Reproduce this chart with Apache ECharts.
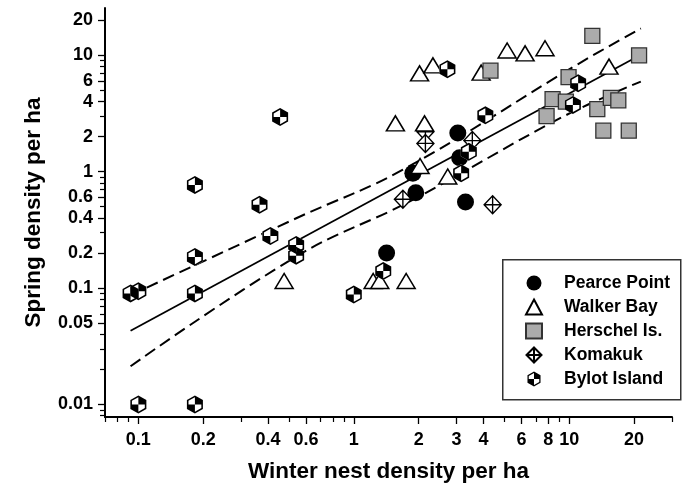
<!DOCTYPE html>
<html>
<head>
<meta charset="utf-8">
<script src="https://cdn.jsdelivr.net/npm/echarts@6/dist/echarts.min.js"></script>
<style>
html,body{margin:0;padding:0;background:#fff;}
#chart{width:683px;height:494px;}
</style>
</head>
<body>
<div id="chart"></div>
<script>
// ---- data (raw densities per ha) ----
const pearceX = [1.42, 1.88, 1.94, 3.04, 3.10, 3.30];
const pearceY = [0.20, 0.97, 0.66, 2.15, 1.32, 0.55];

const walkerX = [1.56, 2.13, 2.03, 2.73, 2.02, 2.33, 3.90, 5.15, 6.24, 7.72, 15.3, 0.475, 1.23, 1.32, 1.75];
const walkerY = [2.6, 2.6, 1.12, 0.91, 7.0, 8.2, 7.1, 11.0, 10.4, 11.5, 8.0, 0.115, 0.115, 0.115, 0.115];

const herschelX = [12.8, 21.1, 4.31, 9.93, 8.37, 9.65, 7.85, 13.5, 15.6, 16.9, 14.4, 18.9];
const herschelY = [14.7, 10.0, 7.4, 6.5, 4.2, 4.0, 3.0, 3.45, 4.3, 4.1, 2.25, 2.25];

const komakukX = [2.15, 2.15, 3.55, 1.69, 4.41];
const komakukY = [2.2, 1.75, 1.85, 0.58, 0.52];

const bylotX = [0.092, 0.100, 0.100, 0.183, 0.183, 0.183, 0.183, 0.365, 0.41, 0.455, 0.54, 0.54, 1.0, 1.37, 2.72, 4.08, 3.42, 3.15, 11.0, 10.4];
const bylotY = [0.090, 0.094, 0.010, 0.010, 0.090, 0.185, 0.77, 0.52, 0.28, 2.95, 0.235, 0.19, 0.088, 0.14, 7.6, 3.05, 1.48, 0.97, 5.75, 3.75];

// regression line and confidence band
const fitX = [0.092, 21.5];
const fitY = [0.043, 10.1];
const upperX = [0.092, 0.56, 1.69, 11.1, 21.5];
const upperY = [0.087, 0.41, 1.04, 8.5, 17.0];
const lowerX = [0.092, 0.56, 1.82, 9.3, 21.5];
const lowerY = [0.0213, 0.194, 0.556, 2.95, 5.95];

const xTickLabels = ['0.1', '0.2', '0.4', '0.6', '1', '2', '3', '4', '6', '8', '10', '20'];
const yTickLabels = ['0.01', '0.05', '0.1', '0.2', '0.4', '0.6', '1', '2', '4', '6', '10', '20'];

const xRange = [0.07, 30];
const yRange = [0.0078, 25.5];

const seriesNames = ['Pearce Point', 'Walker Bay', 'Herschel Is.', 'Komakuk', 'Bylot Island'];

// ---- helpers ----
const lg = v => Math.log10(v);
const pts = (xs, ys) => xs.map((x, i) => [lg(x), lg(ys[i])]);

function minorTicks(range, majors) {
  const out = [];
  for (let e = -3; e <= 2; e++) {
    for (let m = 1; m <= 9; m++) {
      const v = m * Math.pow(10, e);
      if (v >= range[0] * 0.999 && v <= range[1] * 1.001) {
        if (!majors.some(s => Math.abs(+s - v) < 1e-9 * Math.max(1, v))) out.push(lg(v));
      }
    }
  }
  return out;
}
function labelFor(list) {
  return function (val) {
    let best = '', d = 1e9;
    list.forEach(s => { const dd = Math.abs(lg(+s) - val); if (dd < d) { d = dd; best = s; } });
    return d < 1e-6 ? best : '';
  };
}

const FONT = "'Liberation Sans', Arial, Helvetica, sans-serif";
const xMajor = xTickLabels.map(s => lg(+s));
const yMajor = yTickLabels.map(s => lg(+s));
const xMinor = minorTicks(xRange, xTickLabels);
const yMinor = minorTicks(yRange, yTickLabels);

const HEX_PATH = 'path://M43.5,0 L87,25 L87,75 L43.5,100 L0,75 L0,25 Z';
const BYLOT_PATH = 'path://M43.5,0 L87,25 L87,75 L43.5,100 L0,75 L0,25 Z ' +
  'M43.5,10 L8.5,30 L8.5,70 L43.5,90 L78.5,70 L78.5,30 Z ' +
  'M43.5,50 L43.5,10 L78.5,30 L78.5,50 Z ' +
  'M43.5,50 L43.5,90 L8.5,70 L8.5,50 Z';
const KOMAKUK_PATH = 'path://M50,0 L100,50 L50,100 L0,50 Z M50,0 L50,100 M0,50 L100,50';

const axisTxt = { fontFamily: FONT, fontSize: 18, fontWeight: 'bold', color: '#000' };

const chart = echarts.init(document.getElementById('chart'), null, { renderer: 'canvas' });
chart.setOption({
  animation: false,
  backgroundColor: '#fff',
  grid: { left: 105, right: 11, top: 8, bottom: 77, containLabel: false },
  xAxis: [{
    type: 'value', min: lg(xRange[0]), max: lg(xRange[1]), position: 'bottom',
    name: 'Winter nest density per ha', nameLocation: 'middle', nameGap: 43,
    nameTextStyle: { fontFamily: FONT, fontSize: 22.5, fontWeight: 'bold', color: '#000' },
    axisLine: { show: true, onZero: false, lineStyle: { color: '#000', width: 2 } },
    axisTick: { show: true, customValues: xMajor, length: 7, lineStyle: { color: '#000', width: 1.3 } },
    axisLabel: Object.assign({ customValues: xMajor, formatter: labelFor(xTickLabels), margin: 14 }, axisTxt),
    splitLine: { show: false }
  }, {
    type: 'value', min: lg(xRange[0]), max: lg(xRange[1]), position: 'bottom',
    axisLine: { show: false, onZero: false },
    axisTick: { show: true, customValues: xMinor, length: 5, lineStyle: { color: '#000', width: 1.2 } },
    axisLabel: { show: false },
    splitLine: { show: false }
  }],
  yAxis: [{
    type: 'value', min: lg(yRange[0]), max: lg(yRange[1]), position: 'left',
    name: 'Spring density per ha', nameLocation: 'middle', nameGap: 60,
    nameTextStyle: { fontFamily: FONT, fontSize: 22.5, fontWeight: 'bold', color: '#000' },
    axisLine: { show: true, onZero: false, lineStyle: { color: '#000', width: 2 } },
    axisTick: { show: true, customValues: yMajor, length: 7, lineStyle: { color: '#000', width: 1.3 } },
    axisLabel: Object.assign({ customValues: yMajor, formatter: labelFor(yTickLabels), margin: 12 }, axisTxt),
    splitLine: { show: false }
  }, {
    type: 'value', min: lg(yRange[0]), max: lg(yRange[1]), position: 'left',
    axisLine: { show: false, onZero: false },
    axisTick: { show: true, customValues: yMinor, length: 5, lineStyle: { color: '#000', width: 1.2 } },
    axisLabel: { show: false },
    splitLine: { show: false }
  }],
  legend: {
    data: seriesNames,
    orient: 'vertical',
    left: 525, top: 274,
    padding: 0,
    itemWidth: 16, itemHeight: 15, itemGap: 6,
    textStyle: { fontFamily: FONT, fontSize: 17.5, lineHeight: 15, fontWeight: 'bold', color: '#000', padding: [0, 0, 0, 17] },
    selectedMode: false
  },
  graphic: [{
    type: 'rect', left: 502, top: 259, silent: true, z: 0,
    shape: { width: 178, height: 140 },
    style: { fill: '#fff', stroke: '#333', lineWidth: 1.5 }
  }],
  series: [
    { type: 'line', data: pts(fitX, fitY), showSymbol: false, symbol: 'none', silent: true,
      lineStyle: { color: '#000', width: 1.8 }, z: 1 },
    { type: 'line', data: pts(upperX, upperY), showSymbol: false, symbol: 'none', smooth: 0.4, silent: true,
      lineStyle: { color: '#000', width: 2, type: [12, 6] }, z: 1 },
    { type: 'line', data: pts(lowerX, lowerY), showSymbol: false, symbol: 'none', smooth: 0.4, silent: true,
      lineStyle: { color: '#000', width: 2, type: [12, 6] }, z: 1 },
    { name: 'Komakuk', type: 'scatter', data: pts(komakukX, komakukY), symbol: KOMAKUK_PATH, symbolSize: [17, 18],
      itemStyle: { color: '#fff', borderColor: '#000', borderWidth: 1.4, opacity: 1 }, z: 2 },
    { name: 'Pearce Point', type: 'scatter', data: pts(pearceX, pearceY), symbol: 'circle', symbolSize: 17,
      itemStyle: { color: '#000', opacity: 1 }, z: 2 },
    { name: 'Walker Bay', type: 'scatter', data: pts(walkerX, walkerY), symbol: 'triangle', symbolSize: [18, 15],
      itemStyle: { color: '#fff', borderColor: '#000', borderWidth: 1.5, opacity: 1 }, z: 2 },
    { name: 'Herschel Is.', type: 'scatter', data: pts(herschelX, herschelY), symbol: 'rect', symbolSize: 15,
      itemStyle: { color: '#ababab', borderColor: '#333', borderWidth: 1.3, opacity: 1 }, z: 2 },
    { name: 'bylot-base', type: 'scatter', data: pts(bylotX, bylotY), symbol: HEX_PATH, symbolSize: [16, 18],
      itemStyle: { color: '#fff', opacity: 1 }, silent: true, z: 2 },
    { name: 'Bylot Island', type: 'scatter', data: pts(bylotX, bylotY), symbol: BYLOT_PATH, symbolSize: [16, 18],
      itemStyle: { color: '#000', opacity: 1 }, z: 2 }
  ]
});
</script>
</body>
</html>
